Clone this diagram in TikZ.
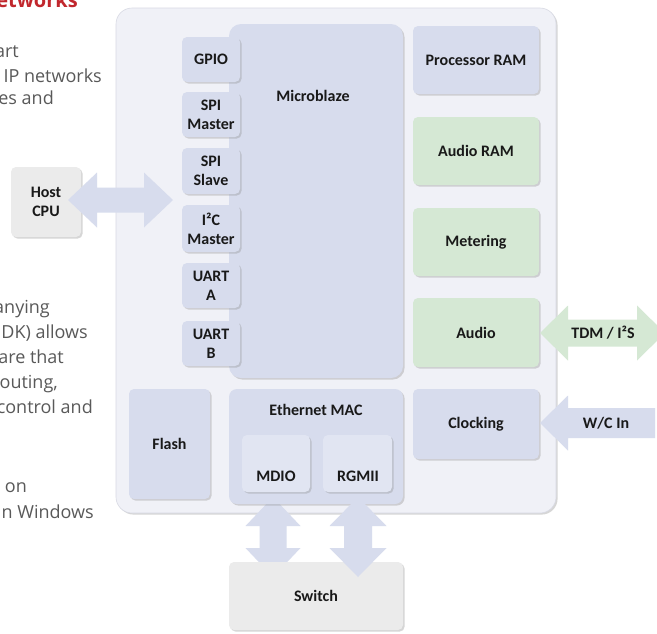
\documentclass[tikz,border=0pt]{standalone}
\usepackage{fontspec}
\setmainfont{Carlito}
\newfontfamily\bodyfont{Open Sans}
\usetikzlibrary{calc,shadows}
\definecolor{bluebox}{HTML}{D7DCED}
\definecolor{greenbox}{HTML}{D5E8D4}
\definecolor{outerfill}{HTML}{F0F1F7}
\definecolor{outerline}{HTML}{D8DAE4}
\definecolor{graybox}{HTML}{EBEBEB}
\definecolor{innerbox}{HTML}{E1E5F2}
\definecolor{bodygray}{HTML}{595959}
\definecolor{headred}{HTML}{C1272D}
\newcommand\HDouble[6]{% style, left tip, right tip, head length, head half, shaft half
  \fill[#1] (#2) -- ($(#2)+(#4,-#5)$) -- ($(#2)+(#4,-#6)$) -- ($(#3)+(-#4,-#6)$) -- ($(#3)+(-#4,-#5)$) -- (#3)
    -- ($(#3)+(-#4,#5)$) -- ($(#3)+(-#4,#6)$) -- ($(#2)+(#4,#6)$) -- ($(#2)+(#4,#5)$) -- cycle;}
\newcommand\VDouble[6]{% style, top tip, bottom tip, head length, head half, shaft half
  \fill[#1] (#2) -- ($(#2)+(#5,#4)$) -- ($(#2)+(#6,#4)$) -- ($(#3)+(#6,-#4)$) -- ($(#3)+(#5,-#4)$) -- (#3)
    -- ($(#3)+(-#5,-#4)$) -- ($(#3)+(-#6,-#4)$) -- ($(#2)+(-#6,#4)$) -- ($(#2)+(-#5,#4)$) -- cycle;}
\newcommand\HSingle[6]{% style, tip, tail, head length, head half, shaft half
  \fill[#1] (#2) -- ($(#2)+(#4,-#5)$) -- ($(#2)+(#4,-#6)$) -- ($(#3)+(0,-#6)$) -- ($(#3)+(0,#6)$)
    -- ($(#2)+(#4,#6)$) -- ($(#2)+(#4,#5)$) -- cycle;}
\tikzset{
  boxbase/.style={inner sep=0pt, outer sep=0pt, anchor=north west, rounded corners=5pt,
    font=\bfseries\fontsize{16}{19}\selectfont, align=center, text=black!90,
    drop shadow={shadow xshift=1.6pt, shadow yshift=-1.6pt, opacity=0.35, fill=black!45}},
  bluebx/.style={boxbase, fill=bluebox},
  greenbx/.style={boxbase, fill=greenbox},
  graybx/.style={boxbase, fill=graybox},
  innerbx/.style={boxbase, fill=innerbox},
  lbl/.style={font=\bfseries\fontsize{16}{19}\selectfont, text=black!90, inner sep=0pt},
  bodytxt/.style={font=\bodyfont\fontsize{18}{25}\selectfont, text=bodygray, anchor=base east, inner sep=0pt},
  arrblue/.style={fill=bluebox},
  arrgreen/.style={fill=greenbox},
}
\begin{document}
\begin{tikzpicture}[x=1pt,y=-1pt]
\clip (0,0) rectangle (657,633);
\fill[white] (0,0) rectangle (657,633);
% left text fragments
\node[bodytxt, font=\bodyfont\bfseries\fontsize{20}{24}\selectfont, text=headred] (t0) at (78,7) {etworks};
\node[bodytxt] (t1) at (19,57) {art};
\node[bodytxt] (t2) at (102,82) {IP networks};
\node[bodytxt] (t3) at (54,104) {es and};
\node[bodytxt] (t4) at (50,313) {anying};
\node[bodytxt] (t5) at (88,338) {DK) allows};
\node[bodytxt] (t6) at (64,363) {are that};
\node[bodytxt] (t7) at (58,388) {outing,};
\node[bodytxt] (t8) at (93,413) {control and};
\node[bodytxt] (t9) at (27,492) {on};
\node[bodytxt] (t10) at (94,518) {n Windows};
% outer board
\node[boxbase, fill=outerfill, draw=outerline, line width=0.6pt, rounded corners=16pt,
  minimum width=440pt, minimum height=505pt] (board) at (116,8) {};
% microblaze and peripherals
\node[bluebx, rounded corners=12pt, minimum width=174pt, minimum height=354pt] (mb) at (229,24) {};
\node[lbl] (mbl) at (313,96) {Microblaze};
\node[bluebx, minimum width=58pt, minimum height=45pt] (gpio) at (182,37) {GPIO};
\node[bluebx, minimum width=58pt, minimum height=45pt] (spim) at (182,92) {SPI\\Master};
\node[bluebx, minimum width=58pt, minimum height=46pt] (spis) at (182,148) {SPI\\Slave};
\node[bluebx, minimum width=58pt, minimum height=47pt] (i2c) at (182,205) {I²C\\Master};
\node[bluebx, minimum width=58pt, minimum height=45pt] (uarta) at (182,263) {UART\\A};
\node[bluebx, minimum width=58pt, minimum height=45pt] (uartb) at (182,321) {UART\\B};
% right column
\node[bluebx, minimum width=126pt, minimum height=68pt] (pram) at (413,26) {Processor RAM};
\node[greenbx, minimum width=126pt, minimum height=68pt] (aram) at (413,117) {Audio RAM};
\node[greenbx, minimum width=126pt, minimum height=68pt] (meter) at (413,208) {Metering};
\node[greenbx, minimum width=126pt, minimum height=69pt] (audio) at (413,298) {Audio};
\node[bluebx, minimum width=126pt, minimum height=70pt] (clock) at (413,389) {Clocking};
% flash
\node[bluebx, minimum width=81pt, minimum height=110pt] (flash) at (129,389) {Flash};
% MDIO arrow (behind the MAC block)
\coordinate (mdtop) at (273,497);
\coordinate (mdbot) at (273,577);
\VDouble{arrblue}{mdtop}{mdbot}{29}{27.5}{13.5}
% ethernet MAC
\node[bluebx, rounded corners=8pt, minimum width=174pt, minimum height=115pt] (mac) at (229,389) {};
\node[lbl] (macl) at (316,410) {Ethernet MAC};
\node[innerbx, minimum width=68pt, minimum height=57pt] (mdio) at (242,435) {};
\node[lbl] (mdiol) at (276,476) {MDIO};
\node[innerbx, minimum width=69pt, minimum height=57pt] (rgmii) at (323,435) {};
\node[lbl] (rgmiil) at (358,476) {RGMII};
% host and switch
\node[graybx, minimum width=70pt, minimum height=70pt] (host) at (11,167) {Host\\CPU};
\node[graybx, minimum width=174pt, minimum height=68pt] (switch) at (229,562) {Switch};
% arrows
\coordinate (hostL) at (68,200);
\coordinate (hostR) at (173,200);
\HDouble{arrblue}{hostL}{hostR}{29}{27.5}{12.5}
\coordinate (rgtop) at (358,497);
\coordinate (rgbot) at (358,577);
\VDouble{arrblue}{rgtop}{rgbot}{29}{28.5}{14}
\coordinate (tdmL) at (540,333);
\coordinate (tdmR) at (665,333);
\HDouble{arrgreen}{tdmL}{tdmR}{28}{27.5}{13.5}
\node[lbl] (tdml) at (603,333) {TDM / I²S};
\coordinate (wcTip) at (540,423);
\coordinate (wcEnd) at (655,423);
\HSingle{arrblue}{wcTip}{wcEnd}{28}{27.5}{15}
\node[lbl] (wcl) at (606,423) {W/C In};
\end{tikzpicture}
\end{document}
